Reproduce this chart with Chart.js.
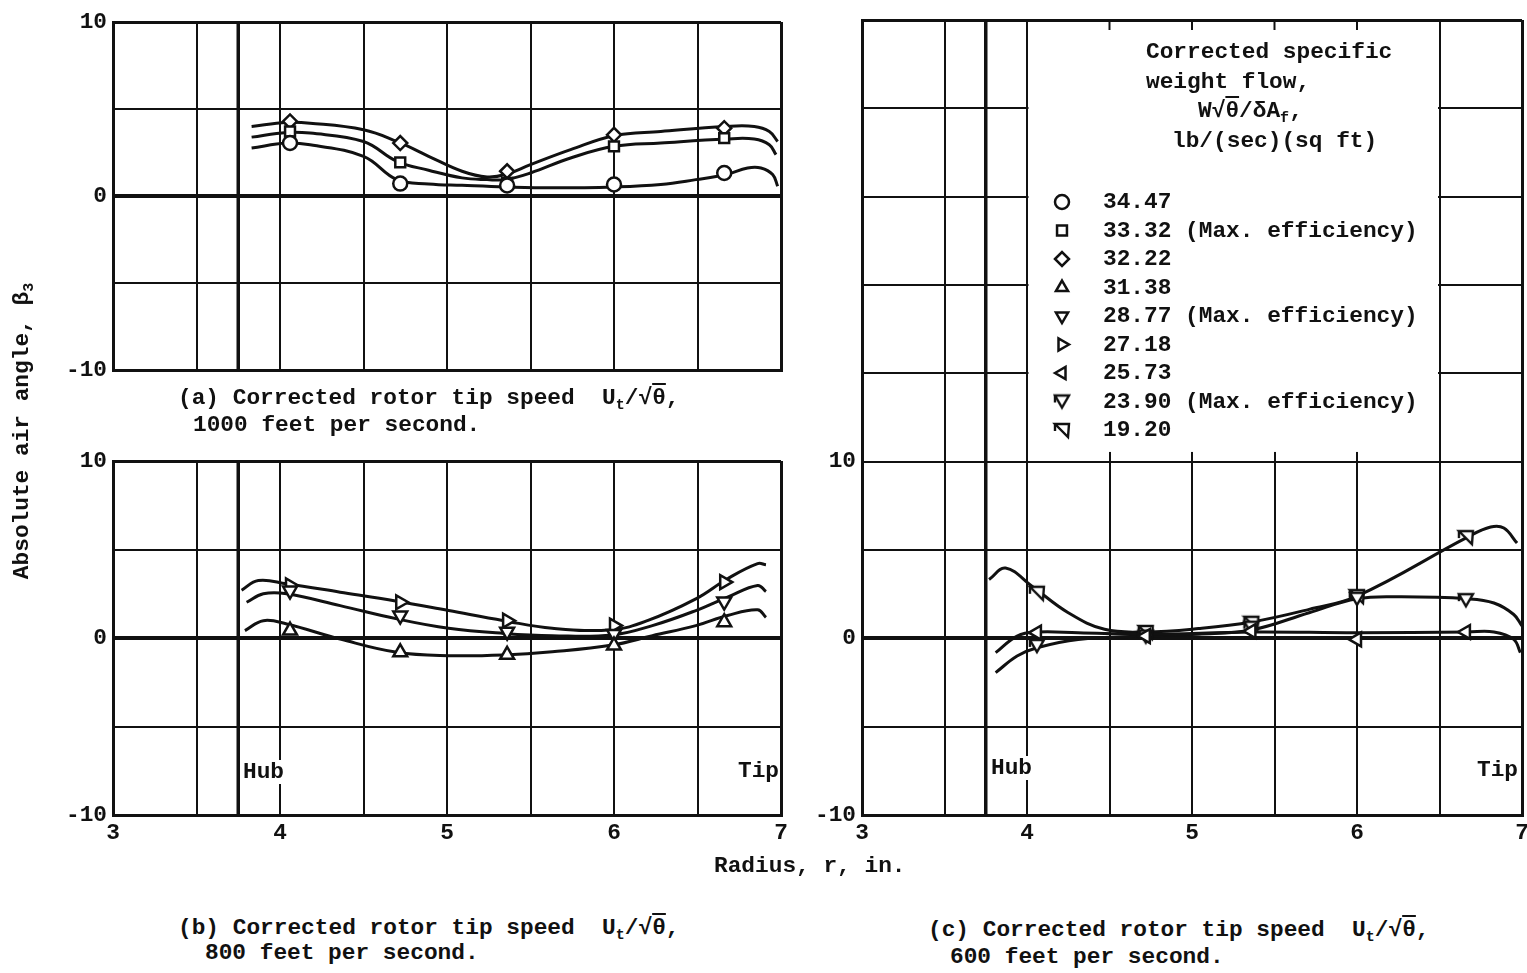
<!DOCTYPE html>
<html>
<head>
<meta charset="utf-8">
<title>Absolute air angle vs radius</title>
<script src="https://cdn.jsdelivr.net/npm/chart.js@4.4.1/dist/chart.umd.min.js"></script>
<style>
  html, body { margin: 0; background: #fff; }
  body {
    position: relative; width: 1527px; height: 973px; overflow: hidden;
    font-family: "Liberation Mono", "DejaVu Sans Mono", monospace;
    font-weight: bold; font-size: 22.8px; color: #111;
  }
  canvas { position: absolute; }
  .t { position: absolute; white-space: pre; line-height: 24px; }
  .t sub { font-size: 15px; vertical-align: -5px; line-height: 0; }
  .ol { text-decoration: overline; }
  .lbl { background: #fff; padding: 0 2px; }
  #ytitle { left: -178px; top: 419px; width: 400px; text-align: center; transform: rotate(-90deg); }
</style>
</head>
<body>
<canvas id="panelA" width="795" height="390" style="left:0;top:0"></canvas>
<canvas id="panelB" width="795" height="440" style="left:0;top:440px"></canvas>
<canvas id="panelC" width="740" height="880" style="left:800px;top:0"></canvas>

<div class="t" id="ytitle">Absolute air angle, β<sub>3</sub></div>
<div class="t" style="left:714px;top:854px">Radius, r, in.</div>

<div class="t" style="left:178px;top:386px">(a) Corrected rotor tip speed  U<sub>t</sub>/√<span class="ol">θ</span>,</div>
<div class="t" style="left:193px;top:413px">1000 feet per second.</div>
<div class="t" style="left:178px;top:916px">(b) Corrected rotor tip speed  U<sub>t</sub>/√<span class="ol">θ</span>,</div>
<div class="t" style="left:205px;top:941px">800 feet per second.</div>
<div class="t" style="left:928px;top:918px">(c) Corrected rotor tip speed  U<sub>t</sub>/√<span class="ol">θ</span>,</div>
<div class="t" style="left:950px;top:945px">600 feet per second.</div>

<div class="t lbl" style="left:241px;top:760px">Hub</div>
<div class="t" style="left:738px;top:759px">Tip</div>
<div class="t lbl" style="left:989px;top:756px">Hub</div>
<div class="t" style="left:1477px;top:758px">Tip</div>

<div class="t" style="left:1146px;top:40px">Corrected specific</div>
<div class="t" style="left:1146px;top:70px">weight flow,</div>
<div class="t" style="left:1198px;top:99px">W√<span class="ol">θ</span>/δA<sub>f</sub>,</div>
<div class="t" style="left:1172px;top:129px">lb/(sec)(sq ft)</div>
<div id="legendRows"></div>

<script>
const INK = '#111';
const FONT_FAMILY = '"Liberation Mono", "DejaVu Sans Mono", monospace';

// corrected specific weight flow, lb/(sec)(sq ft)
const flowLabels = ['34.47', '33.32 (Max. efficiency)', '32.22', '31.38',
  '28.77 (Max. efficiency)', '27.18', '25.73', '23.90 (Max. efficiency)', '19.20'];

// survey stations, radius in.
const stations = [4.06, 4.72, 5.36, 6.0, 6.66];
const radiusTicks = [3, 4, 5, 6, 7];
const angleTicks = [-10, 0, 10];

// (a) 1000 ft/sec - beta3, deg
const a3447 = [3.05, 0.72, 0.61, 0.67, 1.33];
const a3332 = [3.71, 1.94, 0.76, 2.86, 3.33];
const a3222 = [4.29, 3.05, 1.43, 3.52, 3.90];
const a3447FairR = [3.83, 4.04, 4.18, 4.50, 4.70, 4.89, 5.09, 5.35, 5.63, 6.00, 6.28, 6.49, 6.67, 6.80, 6.88, 6.95, 6.98];
const a3447Fair = [2.76, 3.05, 2.95, 2.29, 0.95, 0.70, 0.62, 0.53, 0.48, 0.53, 0.67, 0.95, 1.24, 1.62, 1.62, 1.24, 0.57];
const a3332FairR = [3.83, 4.04, 4.18, 4.50, 4.70, 4.89, 5.09, 5.24, 5.35, 5.50, 5.74, 6.00, 6.28, 6.67, 6.84, 6.93, 6.97];
const a3332Fair = [3.39, 3.66, 3.62, 3.14, 2.00, 1.49, 1.05, 0.95, 0.95, 1.33, 2.19, 2.86, 3.05, 3.28, 3.28, 2.95, 2.38];
const a3222FairR = [3.83, 4.04, 4.18, 4.50, 4.70, 4.89, 5.09, 5.24, 5.35, 5.50, 5.74, 6.00, 6.28, 6.67, 6.84, 6.93, 6.98];
const a3222Fair = [4.00, 4.23, 4.19, 3.81, 3.14, 2.29, 1.43, 1.10, 1.24, 1.81, 2.67, 3.47, 3.71, 4.00, 4.00, 3.71, 3.14];

// (b) 800 ft/sec
const b3138 = [0.42, -0.81, -0.95, -0.43, 0.89];
const b2877 = [2.68, 1.27, 0.36, 0.23, 2.06];
const b2718 = [2.97, 2.02, 0.98, 0.70, 3.16];
const b3138FairR = [3.79, 3.90, 4.04, 4.36, 4.70, 5.01, 5.34, 5.63, 5.99, 6.23, 6.49, 6.68, 6.86, 6.91];
const b3138Fair = [0.42, 0.98, 0.79, -0.06, -0.81, -1.00, -0.96, -0.78, -0.40, 0.13, 0.70, 1.27, 1.59, 1.17];
const b2877FairR = [3.80, 3.90, 4.04, 4.36, 4.70, 5.01, 5.34, 5.63, 5.99, 6.23, 6.49, 6.68, 6.86, 6.91];
const b2877Fair = [2.02, 2.50, 2.50, 1.83, 1.08, 0.55, 0.26, 0.13, 0.17, 0.70, 1.55, 2.31, 2.97, 2.63];
const b2718FairR = [3.77, 3.87, 4.04, 4.36, 4.70, 5.01, 5.34, 5.63, 5.99, 6.20, 6.49, 6.68, 6.86, 6.91];
const b2718Fair = [2.70, 3.25, 3.06, 2.59, 2.08, 1.55, 0.98, 0.55, 0.47, 0.98, 2.21, 3.35, 4.20, 4.14];

// (c) 600 ft/sec
const c2573 = [0.32, 0.13, 0.41, -0.06, 0.36];
const c2390 = [-0.43, 0.10, 0.60, 2.24, 2.16];
const c1920 = [2.58, 0.36, 0.88, 2.39, 5.73];
const c2573FairR = [3.81, 3.94, 4.06, 4.31, 4.72, 5.36, 6.00, 6.67, 6.83, 6.95, 6.99];
const c2573Fair = [-0.81, 0.13, 0.36, 0.32, 0.23, 0.36, 0.32, 0.36, 0.36, -0.06, -0.81];
const c2390FairR = [3.81, 3.94, 4.06, 4.31, 4.72, 5.04, 5.36, 5.71, 6.00, 6.27, 6.67, 6.83, 6.95, 7.00];
const c2390Fair = [-1.94, -1.00, -0.53, -0.06, 0.13, 0.23, 0.47, 1.45, 2.24, 2.35, 2.24, 2.00, 1.35, 0.70];
const c1920FairR = [3.77, 3.87, 4.03, 4.25, 4.47, 4.72, 5.04, 5.36, 5.71, 6.00, 6.67, 6.81, 6.89, 6.97];
const c1920Fair = [3.33, 3.98, 2.95, 1.45, 0.51, 0.36, 0.55, 0.92, 1.64, 2.39, 5.73, 6.30, 6.24, 5.39];

// flagged symbols for the low-flow points
function flagged(kind) {
  const c = document.createElement('canvas');
  c.width = 20; c.height = 20;
  const g = c.getContext('2d');
  g.lineWidth = 2.4; g.strokeStyle = INK; g.fillStyle = '#fff';
  g.beginPath();
  if (kind === 'down') { g.moveTo(3, 4); g.lineTo(17, 4); g.lineTo(10, 16); }
  else { g.moveTo(3, 4); g.lineTo(17, 4); g.lineTo(16, 17); }
  g.closePath(); g.fill(); g.stroke();
  g.beginPath(); g.moveTo(3, 4); g.lineTo(3, 11); g.stroke();
  return c;
}

const flowMarks = [
  { style: 'circle', rot: 0, r: 7 }, { style: 'rect', rot: 0, r: 7 }, { style: 'rectRot', rot: 0, r: 7 },
  { style: 'triangle', rot: 0, r: 8 }, { style: 'triangle', rot: 180, r: 8 }, { style: 'triangle', rot: 90, r: 8 },
  { style: 'triangle', rot: -90, r: 8 }, { style: flagged('down'), rot: 0, r: 8 }, { style: flagged('wedge'), rot: 0, r: 8 }
];

function series(i, values, fairR, fair) {
  return [
    {
      data: values.map((v, k) => ({ x: stations[k], y: v })),
      showLine: false, pointStyle: flowMarks[i].style, pointRotation: flowMarks[i].rot,
      pointRadius: flowMarks[i].r, pointBorderWidth: 2.5, pointBackgroundColor: '#fff', pointBorderColor: INK, order: 0
    },
    {
      data: fair.map((v, k) => ({ x: fairR[k], y: v })),
      showLine: true, pointRadius: 0, borderColor: INK, borderWidth: 3, tension: 0.4, order: 1
    }
  ];
}

// hub line, legend panel and legend symbols
const frameExtras = {
  id: 'frameExtras',
  beforeDatasetsDraw(chart, args, opts) {
    const { ctx, chartArea: area, scales: { x, y } } = chart;
    ctx.save();
    ctx.strokeStyle = INK;
    ctx.lineWidth = 3.5;
    ctx.beginPath();
    ctx.moveTo(x.getPixelForValue(opts.hub), area.top);
    ctx.lineTo(x.getPixelForValue(opts.hub), area.bottom);
    ctx.stroke();
    if (opts.box) {
      const x0 = x.getPixelForValue(opts.box.from), x1 = x.getPixelForValue(opts.box.to);
      const yb = y.getPixelForValue(opts.box.bottom);
      ctx.fillStyle = '#fff';
      ctx.fillRect(x0 + 1.5, area.top + 2, x1 - x0 - 3, yb - area.top - 2);
      ctx.lineWidth = 2;
      for (let r = opts.box.from + 0.5; r < opts.box.to; r += 0.5) {
        const px = x.getPixelForValue(r);
        ctx.beginPath(); ctx.moveTo(px, area.top); ctx.lineTo(px, area.top + 10); ctx.stroke();
      }
      ctx.fillStyle = '#fff';
      ctx.lineWidth = 2.5;
      flowMarks.forEach((m, i) => {
        Chart.helpers.drawPoint(ctx, { pointStyle: m.style, rotation: m.rot, radius: 7, borderWidth: 2.5 },
          opts.box.keyX, opts.box.keyY + i * opts.box.keyStep);
      });
    }
    ctx.restore();
  }
};

function panel(id, datasets, o) {
  const tickFont = { family: FONT_FAMILY, size: 22.8, weight: 'bold' };
  return new Chart(document.getElementById(id), {
    type: 'scatter',
    data: { datasets },
    plugins: [frameExtras],
    options: {
      responsive: false, animation: false, events: [], devicePixelRatio: 1,
      layout: { padding: { top: o.top, right: o.right, left: 0, bottom: 0 } },
      plugins: { legend: { display: false }, tooltip: { enabled: false }, frameExtras: o.extras },
      scales: {
        x: {
          type: 'linear', min: 3, max: 7,
          ticks: {
            stepSize: 0.5, display: o.xLabels, autoSkip: false, maxRotation: 0, padding: 5,
            color: INK, font: tickFont,
            callback: v => radiusTicks.includes(v) ? String(v) : ''
          },
          grid: { color: INK, drawTicks: false, lineWidth: c => (c.tick && (c.tick.value === 3 || c.tick.value === 7)) ? 3 : 2 },
          border: { color: INK, width: 3 },
          afterFit: s => { s.height = o.xHeight; }
        },
        y: {
          type: 'linear', min: -10, max: o.yMax,
          ticks: {
            stepSize: 5, autoSkip: false, padding: 6, color: INK, font: tickFont,
            callback: v => angleTicks.includes(v) ? String(v) : ''
          },
          grid: {
            color: INK, drawTicks: false,
            lineWidth: c => {
              const v = c.tick ? c.tick.value : null;
              if (v === 0) return 4;
              return (v === -10 || v === o.yMax) ? 3 : 2;
            }
          },
          border: { color: INK, width: 3 },
          afterFit: s => { s.width = o.yWidth; }
        }
      }
    }
  });
}

panel('panelA', [
  ...series(0, a3447, a3447FairR, a3447Fair),
  ...series(1, a3332, a3332FairR, a3332Fair),
  ...series(2, a3222, a3222FairR, a3222Fair)
], { top: 22, right: 14, yWidth: 113, xHeight: 17, xLabels: false, yMax: 10, extras: { hub: 3.75 } });

panel('panelB', [
  ...series(3, b3138, b3138FairR, b3138Fair),
  ...series(4, b2877, b2877FairR, b2877Fair),
  ...series(5, b2718, b2718FairR, b2718Fair)
], { top: 21, right: 14, yWidth: 113, xHeight: 65, xLabels: true, yMax: 10, extras: { hub: 3.75 } });

panel('panelC', [
  ...series(6, c2573, c2573FairR, c2573Fair),
  ...series(7, c2390, c2390FairR, c2390Fair),
  ...series(8, c1920, c1920FairR, c1920Fair)
], {
  top: 20, right: 18, yWidth: 62, xHeight: 65, xLabels: true, yMax: 35,
  extras: { hub: 3.75, box: { from: 4, to: 6.5, bottom: 10.55, keyX: 262, keyY: 202, keyStep: 28.5 } }
});

// legend entries beside the key symbols
const rows = document.getElementById('legendRows');
flowLabels.forEach((label, i) => {
  const d = document.createElement('div');
  d.className = 't';
  d.style.left = '1103px';
  d.style.top = (190 + i * 28.5) + 'px';
  d.textContent = label;
  rows.appendChild(d);
});
</script>
</body>
</html>
